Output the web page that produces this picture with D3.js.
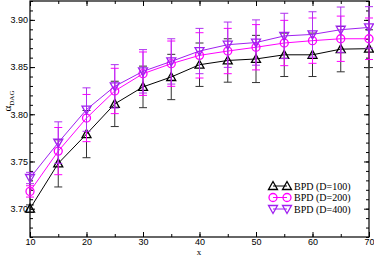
<!DOCTYPE html>
<html lang="en">
<head>
<meta charset="UTF-8">
<title>alpha DAG</title>
<style>
  body { margin: 0; background: #fff; }
  svg { display: block; font-family: "Liberation Serif", "DejaVu Serif", serif; }
  .tick text { font-size: 9px; }
</style>
</head>
<body>
<script src="https://d3js.org/d3.v7.min.js"></script>
<svg id="svg"></svg>
<script>
  var xs = [10, 15, 20, 25, 30, 35, 40, 45, 50, 55, 60, 65, 70];
  var d100 = [3.700, 3.748, 3.779, 3.811, 3.829, 3.8395, 3.8525, 3.857, 3.8586, 3.863, 3.863, 3.869, 3.8695];
  var e100 = [0.004, 0.025, 0.025, 0.024, 0.022, 0.024, 0.023, 0.023, 0.025, 0.023, 0.023, 0.024, 0.020];
  var d200 = [3.7183, 3.761, 3.796, 3.8247, 3.843, 3.8536, 3.8624, 3.867, 3.871, 3.8755, 3.878, 3.880, 3.880];
  var e200 = [0.006, 0.025, 0.025, 0.024, 0.023, 0.024, 0.024, 0.024, 0.024, 0.024, 0.024, 0.024, 0.022];
  var d400 = [3.7325, 3.770, 3.805, 3.8296, 3.8455, 3.856, 3.867, 3.8737, 3.876, 3.883, 3.8846, 3.8896, 3.892];
  var e400 = [0.006, 0.022, 0.023, 0.023, 0.023, 0.024, 0.024, 0.024, 0.024, 0.024, 0.024, 0.024, 0.022];
  var names = ["BPD (D=100)", "BPD (D=200)", "BPD (D=400)"];
  var xTicks = [10, 20, 30, 40, 50, 60, 70];
  var yTicks = [3.70, 3.75, 3.80, 3.85, 3.90];

  var w = 374, h = 257;
  var m = { l: 30, r: 5, t: 1, b: 20 };
  var svg = d3.select("#svg").attr("width", w).attr("height", h);

  var x = d3.scaleLinear().domain([10, 70]).range([m.l, w - m.r]);
  var y = d3.scaleLinear().domain([3.67, 3.92]).range([h - m.b, m.t]);

  var series = [
    { vals: d100, err: e100, color: "#000000", errColor: "#333333", shape: "up" },
    { vals: d200, err: e200, color: "#ff00ff", errColor: "#ff00ff", shape: "circle" },
    { vals: d400, err: e400, color: "#a020f0", errColor: "#b030f0", shape: "down" }
  ];

  // axes with inward ticks on all four sides
  var xMinor = d3.range(10, 71, 5);
  var yMinor = d3.range(367, 393, 1).map(function (v) { return v / 100; });

  function ax(gen, tr) {
    return svg.append("g").attr("transform", tr).call(gen)
      .call(function (g) { g.select(".domain").remove(); });
  }
  ax(d3.axisBottom(x).tickValues(xMinor).tickSize(-3).tickFormat(""), "translate(0," + (h - m.b) + ")");
  ax(d3.axisTop(x).tickValues(xMinor).tickSize(-3).tickFormat(""), "translate(0," + m.t + ")");
  ax(d3.axisLeft(y).tickValues(yMinor).tickSize(-3).tickFormat(""), "translate(" + m.l + ",0)");
  ax(d3.axisRight(y).tickValues(yMinor).tickSize(-3).tickFormat(""), "translate(" + (w - m.r) + ",0)");
  ax(d3.axisBottom(x).tickValues(xTicks).tickSize(-5).tickPadding(1.5).tickFormat(d3.format("d")), "translate(0," + (h - m.b) + ")");
  ax(d3.axisTop(x).tickValues(xTicks).tickSize(-5).tickFormat(""), "translate(0," + m.t + ")");
  ax(d3.axisLeft(y).tickValues(yTicks).tickSize(-5).tickPadding(2).tickFormat(d3.format(".2f")), "translate(" + m.l + ",0)");
  ax(d3.axisRight(y).tickValues(yTicks).tickSize(-5).tickFormat(""), "translate(" + (w - m.r) + ",0)");
  svg.selectAll(".tick text").attr("fill", "#000");

  svg.append("rect")
    .attr("x", m.l).attr("y", m.t)
    .attr("width", w - m.l - m.r).attr("height", h - m.t - m.b)
    .attr("fill", "none").attr("stroke", "#000").attr("stroke-width", 1.2);

  function marker(g, shape, color) {
    if (shape === "circle") {
      g.append("circle").attr("r", 4).attr("fill", "none").attr("stroke", color).attr("stroke-width", 1.3);
    } else {
      var p = shape === "up" ? "M0,-4.5L4.5,3.5L-4.5,3.5Z" : "M0,4.5L4.5,-3.5L-4.5,-3.5Z";
      g.append("path").attr("d", p).attr("fill", "none").attr("stroke", color).attr("stroke-width", 1.3);
    }
  }

  var line = d3.line().x(function (d) { return x(d[0]); }).y(function (d) { return y(d[1]); });

  series.forEach(function (s) {
    var pts = xs.map(function (v, i) { return [v, s.vals[i], s.err[i]]; });
    var eg = svg.append("g").attr("stroke", s.errColor).attr("stroke-width", 1);
    pts.forEach(function (d) {
      var cx = x(d[0]), y0 = y(d[1] - d[2]), y1 = y(d[1] + d[2]);
      eg.append("line").attr("x1", cx).attr("x2", cx).attr("y1", y0).attr("y2", y1);
      eg.append("line").attr("x1", cx - 4).attr("x2", cx + 4).attr("y1", y0).attr("y2", y0);
      eg.append("line").attr("x1", cx - 4).attr("x2", cx + 4).attr("y1", y1).attr("y2", y1);
    });
    svg.append("path").datum(pts).attr("d", line)
      .attr("fill", "none").attr("stroke", s.color).attr("stroke-width", 1);
    pts.forEach(function (d) {
      var g = svg.append("g").attr("transform", "translate(" + x(d[0]) + "," + y(d[1]) + ")");
      marker(g, s.shape, s.color);
    });
  });

  // legend
  names.forEach(function (n, i) {
    var s = series[i];
    var ly = 186 + i * 11.5;
    svg.append("line").attr("x1", 273).attr("x2", 287).attr("y1", ly).attr("y2", ly)
      .attr("stroke", s.color).attr("stroke-width", 1);
    marker(svg.append("g").attr("transform", "translate(273," + ly + ")"), s.shape, s.color);
    marker(svg.append("g").attr("transform", "translate(287," + ly + ")"), s.shape, s.color);
    svg.append("text").attr("x", 294).attr("y", ly + 3.5).attr("font-size", 10).text(n);
  });

  // axis titles
  svg.append("text").attr("x", 199).attr("y", 255).attr("font-size", 9)
    .attr("text-anchor", "middle").text("x");
  var yl = svg.append("text").attr("transform", "translate(11,101) rotate(-90)")
    .attr("text-anchor", "middle").attr("font-size", 11);
  yl.append("tspan").text("α");
  yl.append("tspan").attr("font-size", 7).attr("dy", 3).text("DAG");
</script>
</body>
</html>
